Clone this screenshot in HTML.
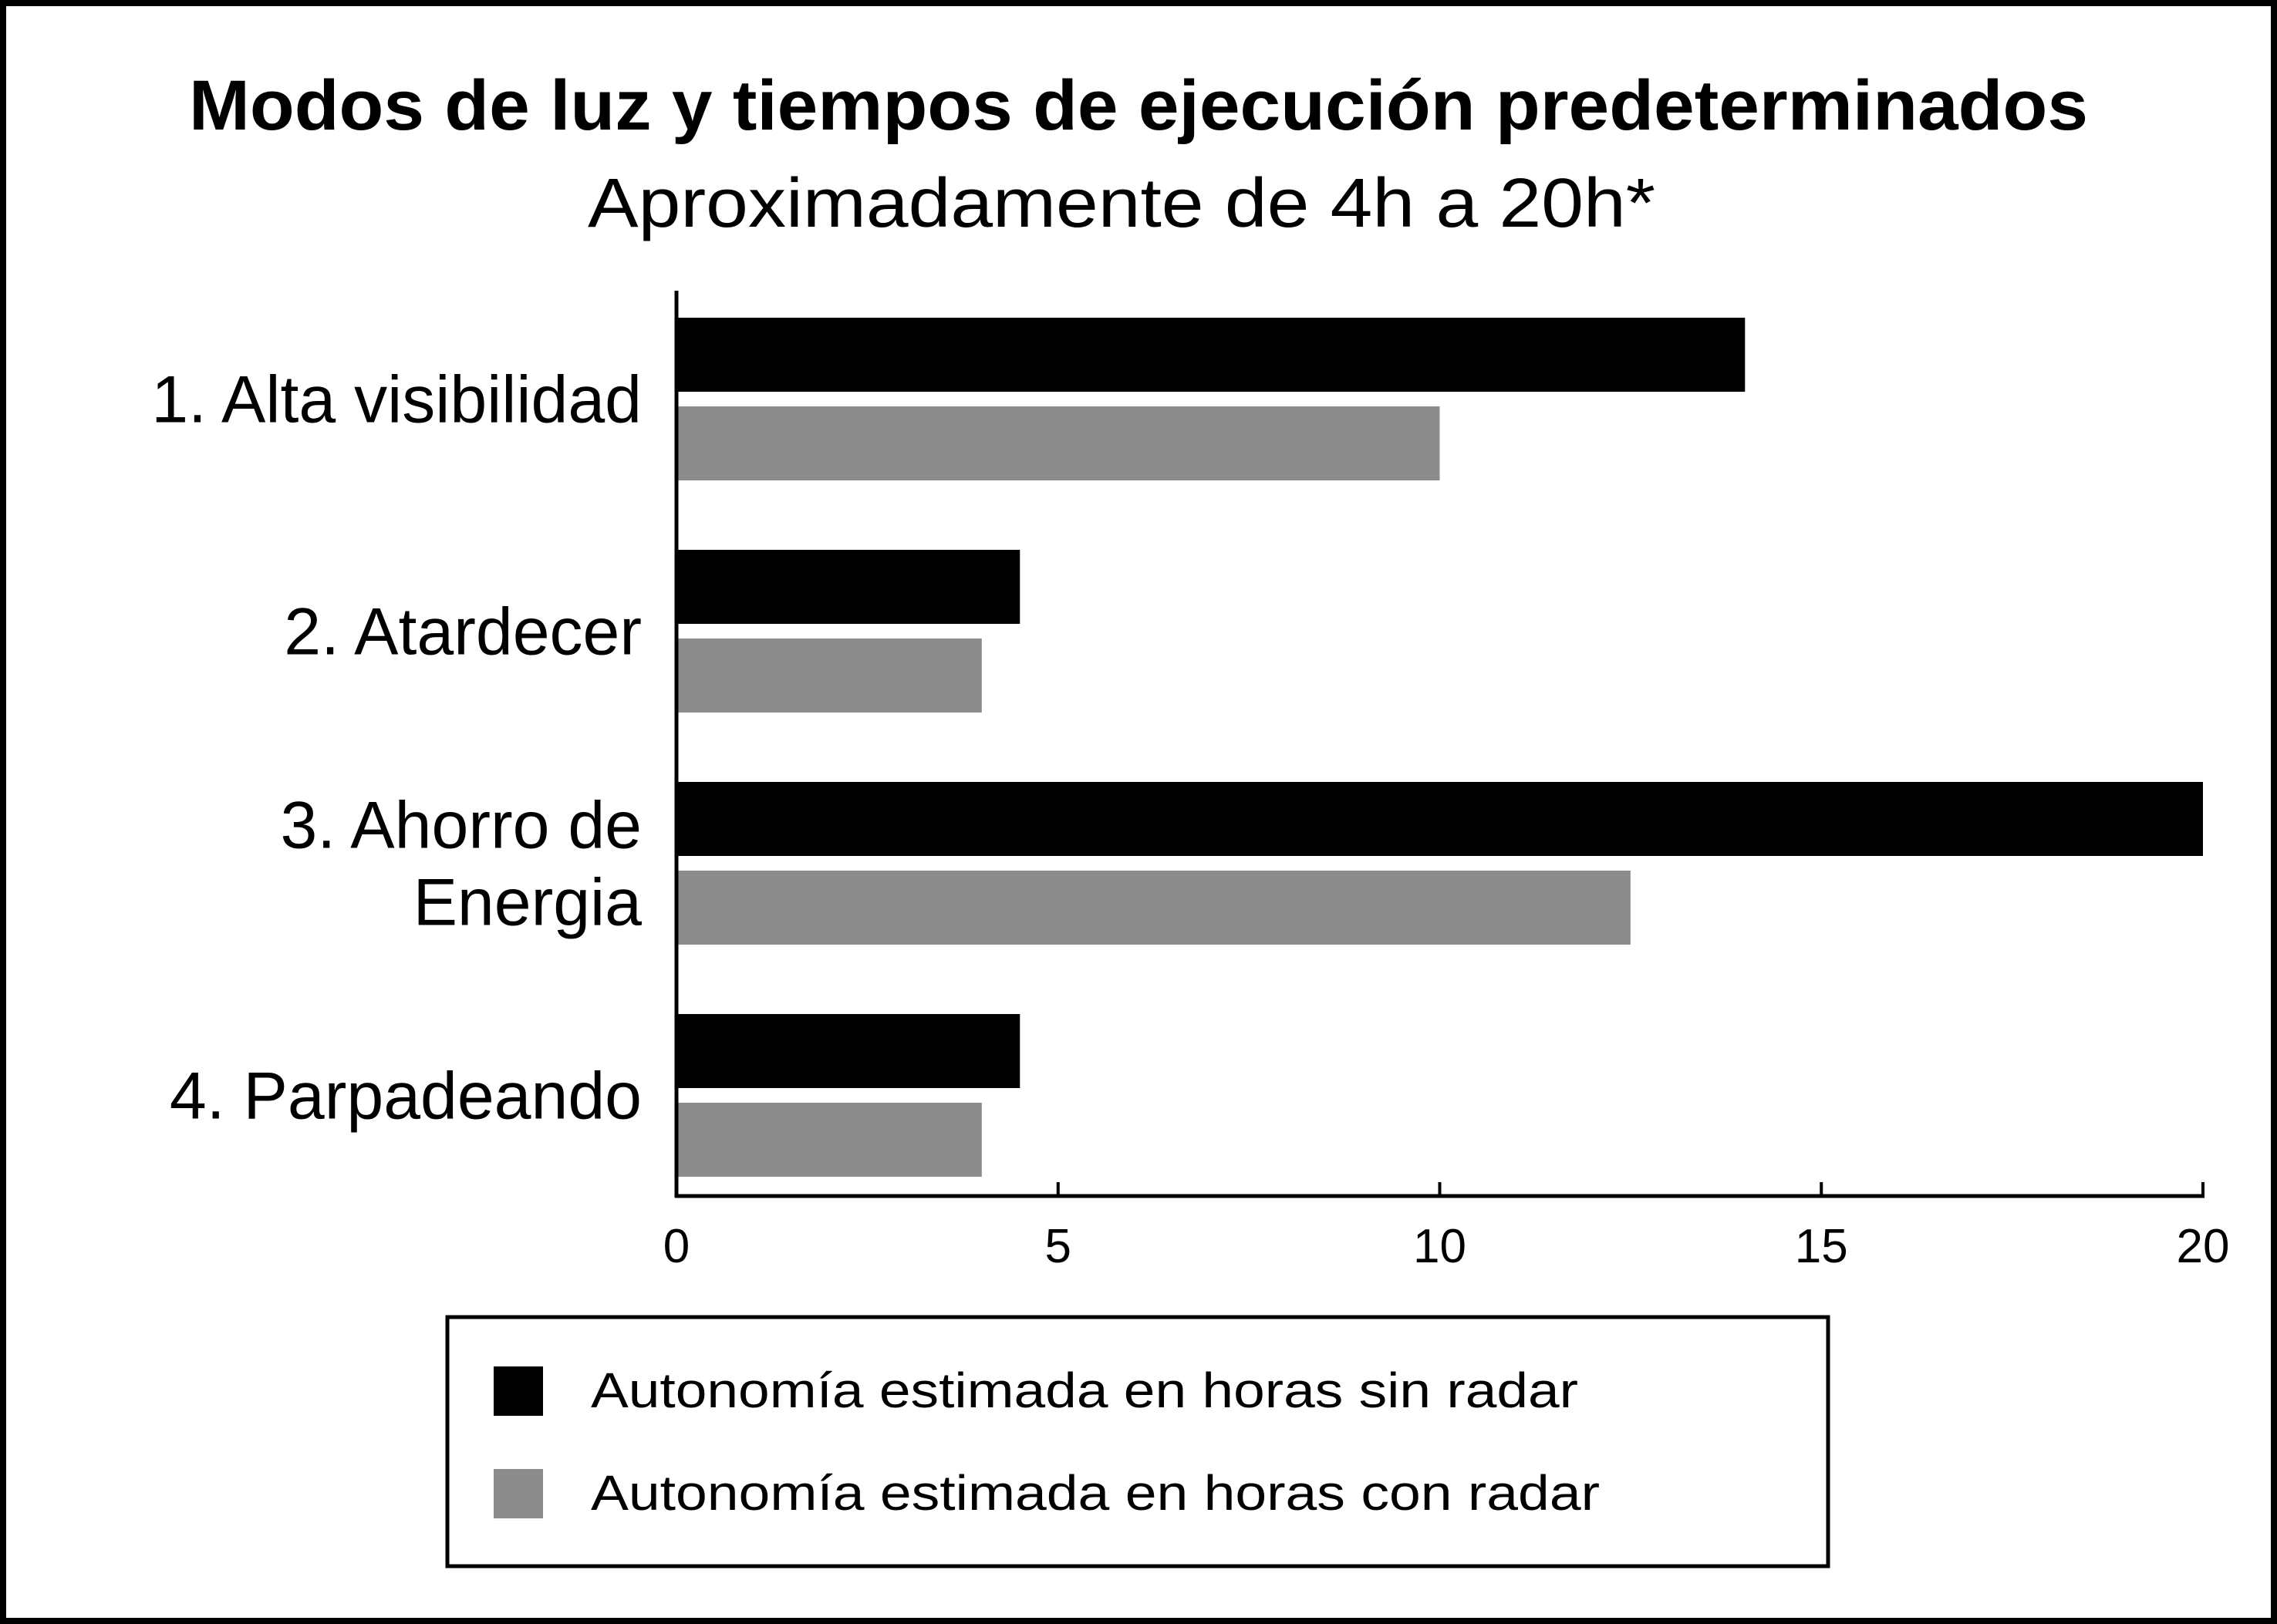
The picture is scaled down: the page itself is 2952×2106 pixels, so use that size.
<!DOCTYPE html>
<html><head><meta charset="utf-8"><style>
html,body{margin:0;padding:0;background:#fff}
svg{display:block;font-family:"Liberation Sans",sans-serif}
</style></head><body>
<svg width="2952" height="2106" viewBox="0 0 2952 2106">
<rect x="4" y="4" width="2944" height="2098" fill="#fff" stroke="#000" stroke-width="8"/>
<text x="1476" y="168" text-anchor="middle" font-size="92" font-weight="bold" textLength="2462" lengthAdjust="spacingAndGlyphs">Modos de luz y tiempos de ejecución predeterminados</text>
<text x="1454" y="294" text-anchor="middle" font-size="90" textLength="1384" lengthAdjust="spacingAndGlyphs">Aproximadamente de 4h a 20h*</text>
<g id="plot"></g>
<g>
<rect x="580" y="1708" width="1790" height="323" fill="#fff" stroke="#000" stroke-width="5"/>
<rect x="640" y="1772" width="64" height="64" fill="#000"/>
<text x="766" y="1825" font-size="64" textLength="1280" lengthAdjust="spacingAndGlyphs">Autonomía estimada en horas sin radar</text>
<rect x="640" y="1905" width="64" height="64" fill="#8c8c8c"/>
<text x="766" y="1958" font-size="64" textLength="1308" lengthAdjust="spacingAndGlyphs">Autonomía estimada en horas con radar</text>
</g>
</svg>
<script>
const categories = [["1. Alta visibilidad"], ["2. Atardecer"], ["3. Ahorro de ", "Energia"], ["4. Parpadeando"]];
const sinRadar = [14, 4.5, 20, 4.5];
const conRadar = [10, 4, 12.5, 4];
const ticks = [0, 5, 10, 15, 20];
const tickLabels = ["0", "5", "10", "15", "20"];

const NS = "http://www.w3.org/2000/svg";
const g = document.getElementById("plot");
const x0 = 877, x1 = 2856, xMax = 20, yTop = 377, yBottom = 1551;
const groupTop = 412, groupStep = 301, barH = 96, barGap = 19;
function xs(v){ return x0 + (x1 - x0) * v / xMax; }
function mk(tag, attrs){ const e = document.createElementNS(NS, tag); for (const k in attrs) e.setAttribute(k, attrs[k]); g.appendChild(e); return e; }

categories.forEach((cat, i) => {
  const yb = groupTop + i * groupStep;
  const b1 = mk("rect", {x: x0, y: yb, width: xs(sinRadar[i]) - x0, height: barH, fill: "#000"});
  
  
  const b2 = mk("rect", {x: x0, y: yb + barH + barGap, width: xs(conRadar[i]) - x0, height: barH, fill: "#8c8c8c"});
  
  
  const cy = yb + barH + barGap / 2;
  const lh = 100;
  const startY = cy - (cat.length - 1) * lh / 2 + 30;
  cat.forEach((line, j) => {
    const t = mk("text", {x: 832, y: startY + j * lh, "text-anchor": "end", "font-size": 86, "xml:space": "preserve"});
    
    
    t.textContent = line;
  });
});

const ya = mk("line", {x1: x0, y1: yTop, x2: x0, y2: yBottom + 2, stroke: "#000", "stroke-width": 5});


const xa = mk("line", {x1: x0 - 2, y1: yBottom, x2: x1 + 2, y2: yBottom, stroke: "#000", "stroke-width": 5});


ticks.forEach((v, i) => {
  const tk = mk("line", {x1: xs(v), y1: yBottom, x2: xs(v), y2: yBottom - 18, stroke: "#000", "stroke-width": 4});
  
  
  const tl = mk("text", {x: xs(v), y: 1637, "text-anchor": "middle", "font-size": 62});
  
  
  tl.textContent = tickLabels[i];
});
</script>
</body></html>
